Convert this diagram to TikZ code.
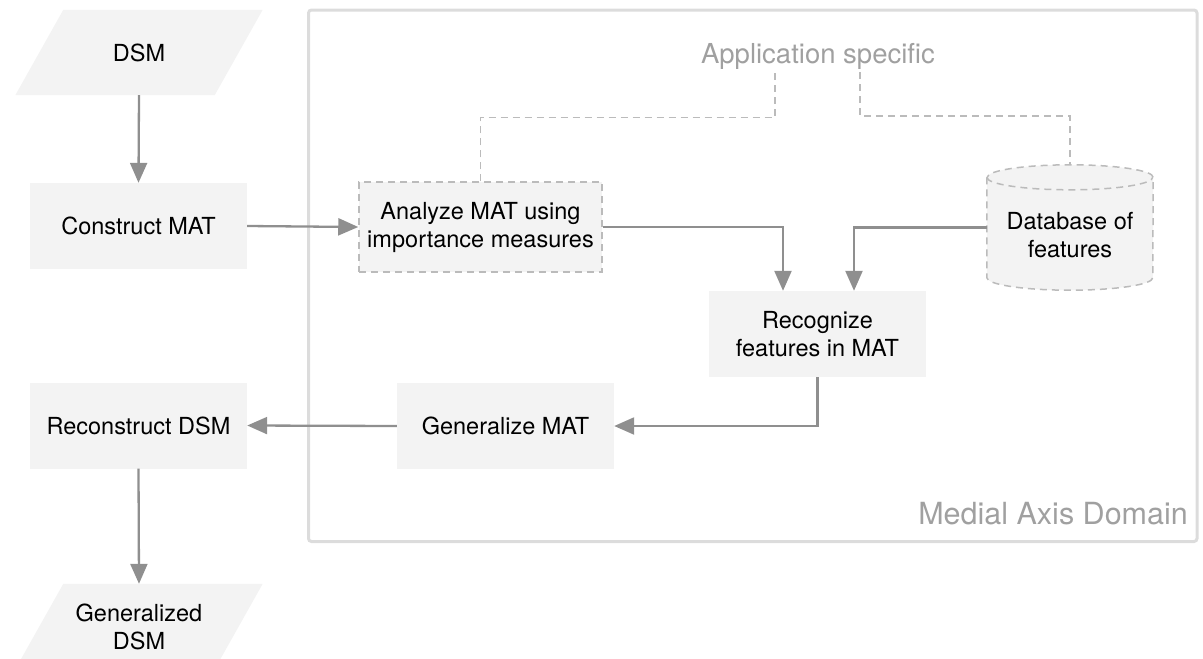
\documentclass[tikz,border=0pt]{standalone}
\usepackage{fontspec}
\setmainfont{TeX Gyre Heros}
\usetikzlibrary{arrows.meta,backgrounds,calc}
\definecolor{boxfill}{HTML}{F3F3F3}
\definecolor{arrowgray}{HTML}{8F8F8F}
\definecolor{dashgray}{HTML}{BBBBBB}
\definecolor{framegray}{HTML}{DCDCDC}
\definecolor{labelgray}{HTML}{A0A0A0}
\tikzset{
  txt/.style={font=\fontsize{23.5}{28}\selectfont, text=black, align=center},
  proc/.style={txt, fill=boxfill, minimum width=217pt, minimum height=86pt, inner sep=0pt},
  iobox/.style={txt, minimum width=199pt, minimum height=85pt, inner sep=0pt},
  flow/.style={draw=arrowgray, line width=2.3pt, -{Triangle[length=20pt,width=17pt]}},
  dashline/.style={draw=dashgray, line width=1.5pt, dash pattern=on 7pt off 5pt},
  dashbox/.style={proc, draw=dashgray, line width=1.5pt, dash pattern=on 7pt off 5pt},
  graylabel/.style={font=\fontsize{27.5}{32}\selectfont, text=labelgray, inner sep=0pt}
}
\begin{document}
\begin{tikzpicture}[x=1pt,y=-1pt]
\useasboundingbox (0,0) rectangle (1203,659);
% outer domain frame
\draw[framegray, line width=3pt, rounded corners=3pt] (308.5,10) rectangle (1197,541.5);

% nodes
\node[iobox] (dsm) at (139,52.5) {DSM};
\node[proc] (construct) at (138.5,226) {Construct MAT};
\node[dashbox, minimum width=243pt, minimum height=90pt] (analyze) at (480.5,227) {Analyze MAT using\\importance measures};
\node[proc] (recog) at (817.5,334) {Recognize\\features in MAT};
\node[proc] (gen) at (505.5,426) {Generalize MAT};
\node[proc] (recon) at (138.5,425.5) {Reconstruct DSM};
\node[iobox] (gdsm) at (139,626.5) {Generalized\\DSM};
\node[minimum width=166pt, minimum height=125pt, inner sep=0pt,
      label={[txt, yshift=-7.5pt]center:{Database of\\features}}] (db) at (1070,227.5) {};

\node[graylabel, anchor=base] (app) at (818,63) {Application specific};
\node[graylabel, font=\fontsize{30.5}{34}\selectfont, anchor=base east] (mad) at (1188,524) {Medial Axis Domain};

\begin{pgfonlayer}{background}
  \fill[boxfill] ([xshift=-24pt]dsm.south west) -- ([xshift=-24pt]dsm.south east)
     -- ([xshift=24pt]dsm.north east) -- ([xshift=24pt]dsm.north west) -- cycle;
  \fill[boxfill] ([xshift=-24pt]gdsm.south west) -- ([xshift=-24pt]gdsm.south east)
     -- ([xshift=24pt]gdsm.north east) -- ([xshift=24pt]gdsm.north west) -- cycle;
  \path[fill=boxfill, dashline] ($(db.north west)+(0,12.5)$) -- ($(db.south west)+(0,-12.5)$)
     arc[start angle=180, end angle=360, x radius=83pt, y radius=12.5pt]
     -- ($(db.north east)+(0,12.5)$)
     arc[start angle=0, end angle=180, x radius=83pt, y radius=12.5pt] -- cycle;
  \draw[dashline] ($(db.north west)+(0,12.5)$)
     arc[start angle=180, end angle=360, x radius=83pt, y radius=12.5pt];
\end{pgfonlayer}

% dashed connectors to "Application specific"
\coordinate (a1) at (775,72);
\coordinate (a2) at (860,72);
\draw[dashline] (analyze.north) -- ++(0,-64) -| (a1);
\draw[dashline] (a2) -- ++(0,44) -| (db.north);

% flow arrows
\draw[flow] (dsm.south) -- (construct.north);
\draw[flow] (construct.east) -- (analyze.west);
\draw[flow] (analyze.east) -| ([xshift=-34.5pt]recog.north);
\draw[flow] (db.west) -| ([xshift=36.5pt]recog.north);
\draw[flow] (recog.south) |- (gen.east);
\draw[flow] (gen.west) -- (recon.east);
\draw[flow] (recon.south) -- (gdsm.north);
\end{tikzpicture}
\end{document}
